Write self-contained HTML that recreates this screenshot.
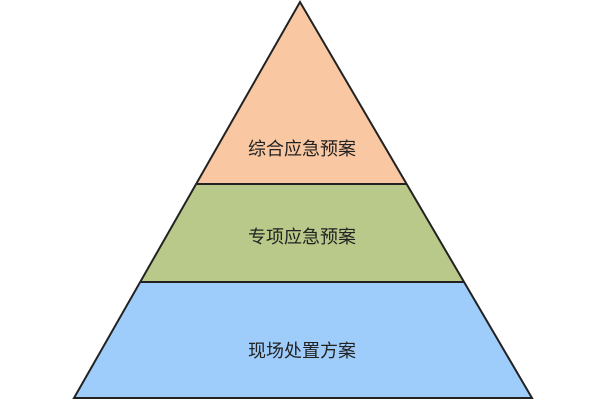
<!DOCTYPE html>
<html><head><meta charset="utf-8"><style>
html,body{margin:0;padding:0;background:#fff;width:600px;height:400px;overflow:hidden}
text{font-family:"Liberation Sans","Noto Sans CJK SC",sans-serif;font-size:18px;fill:#222}
</style></head><body>
<svg width="600" height="400" viewBox="0 0 600 400">
<polygon points="300,2 407,184 197,184" fill="#f9c8a3"/>
<polygon points="197,184 407,184 464,282 141,282" fill="#b9c98a"/>
<polygon points="141,282 464,282 532,398 74,398" fill="#9fcdfb"/>
<polygon points="300,2 532,398 74,398" fill="none" stroke="#222" stroke-width="2"/>
<line x1="197" y1="184" x2="407" y2="184" stroke="#222" stroke-width="2"/>
<line x1="141" y1="282" x2="464" y2="282" stroke="#222" stroke-width="2"/>
<text x="302" y="155" text-anchor="middle">综合应急预案</text>
<text x="302" y="243" text-anchor="middle">专项应急预案</text>
<text x="302" y="357" text-anchor="middle">现场处置方案</text>
</svg>
</body></html>
